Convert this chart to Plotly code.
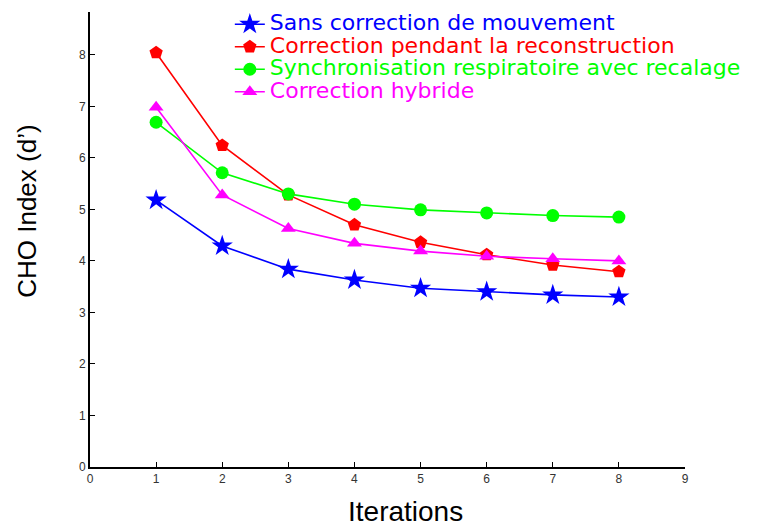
import plotly.graph_objects as go

iterations = [1, 2, 3, 4, 5, 6, 7, 8]
sans_correction = [5.18, 4.29, 3.84, 3.63, 3.47, 3.40, 3.34, 3.30]
correction_reconstruction = [8.04, 6.24, 5.28, 4.70, 4.36, 4.12, 3.92, 3.79]
synchronisation = [6.69, 5.71, 5.30, 5.10, 4.99, 4.93, 4.88, 4.85]
correction_hybride = [6.98, 5.28, 4.63, 4.34, 4.19, 4.09, 4.04, 4.00]

names = ["Sans correction de mouvement",
         "Correction pendant la reconstruction",
         "Synchronisation respiratoire avec recalage",
         "Correction hybride"]
colors = ["#0000FF", "#FF0000", "#00FF00", "#FF00FF"]
symbols = ["star", "pentagon", "circle", "triangle-up"]
sizes = [16, 14, 13, 13]
series = [sans_correction, correction_reconstruction, synchronisation, correction_hybride]

fig = go.Figure()
for name, col, sym, sz, vals in zip(names, colors, symbols, sizes, series):
    fig.add_trace(go.Scatter(
        x=iterations, y=vals, mode="lines+markers",
        name=f'<span style="color:{col};font-size:22px">{name}</span>',
        line=dict(color=col, width=1.6),
        marker=dict(symbol=sym, size=sz, color=col),
    ))

axis_common = dict(
    showline=True, linecolor="black", linewidth=2,
    ticks="inside", ticklen=5, tickcolor="black", tickwidth=1.2,
    showgrid=False, zeroline=False,
    tickfont=dict(family="Liberation Sans, Arial, sans-serif", size=12, color="#333333"),
    mirror=False,
)

fig.update_layout(
    width=757, height=518,
    paper_bgcolor="white", plot_bgcolor="white",
    margin=dict(l=82, r=80, t=0, b=59),
    xaxis=dict(range=[0, 9], dtick=1, **axis_common),
    yaxis=dict(range=[0, 8.83], tickvals=[0, 1, 2, 3, 4, 5, 6, 7, 8],
               domain=[0, 455 / 459], **axis_common),
    showlegend=True,
    legend=dict(x=0.235, y=1.0, xanchor="left", yanchor="top",
                font=dict(family="DejaVu Sans, sans-serif", size=15),
                bgcolor="rgba(0,0,0,0)", itemwidth=30, tracegroupgap=0),
    annotations=[
        dict(text="CHO Index (d’)", x=-0.106, y=0.558, xref="paper", yref="paper",
             xanchor="center", yanchor="middle",
             showarrow=False, textangle=-90,
             font=dict(family="Liberation Sans, Arial, sans-serif", size=26, color="black")),
        dict(text="Iterations", x=0.53, y=-0.096, xref="paper", yref="paper",
             xanchor="center", yanchor="middle",
             showarrow=False,
             font=dict(family="Liberation Sans, Arial, sans-serif", size=28, color="black")),
    ],
)

fig.write_html("out.html")
